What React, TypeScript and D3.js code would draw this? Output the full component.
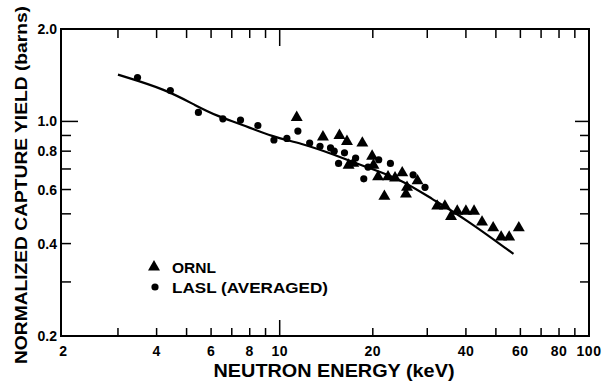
import React from 'react';
import * as d3 from 'd3';

// ORNL triangles: [energy keV, yield barns]
const ornlEnergy = [11.35, 13.8, 15.6, 16.5, 18.5, 19.9, 16.7, 17.3, 20.1, 20.8, 22.4, 23.6, 24.9, 21.8, 25.6, 25.8, 27.9, 32.3, 34.2, 35.8, 37.5, 40.0, 42.5, 45.1, 49.0, 52.0, 55.2, 59.3];
const ornlYield = [1.03, 0.89, 0.9, 0.86, 0.85, 0.77, 0.72, 0.73, 0.72, 0.66, 0.66, 0.654, 0.68, 0.57, 0.58, 0.61, 0.64, 0.53, 0.53, 0.49, 0.51, 0.51, 0.51, 0.47, 0.45, 0.42, 0.42, 0.45];

// LASL (averaged) dots
const laslEnergy = [3.47, 4.43, 5.46, 6.55, 7.47, 8.5, 9.58, 10.55, 11.45, 12.5, 13.5, 14.6, 15.0, 15.5, 17.6, 18.7, 20.9, 22.8, 27.0, 29.5, 16.2, 19.3];
const laslYield = [1.39, 1.26, 1.07, 1.02, 1.01, 0.97, 0.87, 0.88, 0.93, 0.85, 0.83, 0.82, 0.8, 0.73, 0.76, 0.65, 0.75, 0.73, 0.67, 0.61, 0.79, 0.71];

// fitted curve
const fitEnergy = [3.0, 4.3, 5.4, 6.3, 7.5, 9.5, 11.7, 15, 19, 24.5, 31, 40, 57];
const fitYield = [1.42, 1.27, 1.12, 1.04, 0.98, 0.89, 0.85, 0.78, 0.71, 0.65, 0.56, 0.48, 0.37];

const xTickLabels = [2, 4, 6, 8, 10, 20, 40, 60, 80, 100];
const xMinorTicks = [3, 4, 5, 6, 7, 8, 9, 20, 30, 40, 50, 60, 70, 80, 90];
const yTickLabels = [2.0, 1.0, 0.8, 0.6, 0.4, 0.2];
const yMinorTicks = [0.3, 0.4, 0.5, 0.6, 0.7, 0.8, 0.9];

const W = 605;
const H = 381;
const frame = { left: 61, right: 589, top: 29, bottom: 336 };
const font = '"Liberation Sans", Arial, sans-serif';

export default function App() {
  const x = d3.scaleLog().domain([2, 100]).range([63.5, frame.right]);
  const y = d3.scaleLog().domain([0.2, 2.0]).range([frame.bottom, frame.top]);

  const fit = fitEnergy.map((e, i) => [e, fitYield[i]] as [number, number]);
  const line = d3.line<[number, number]>()
    .x(d => x(d[0]))
    .y(d => y(d[1]))
    .curve(d3.curveBasis);

  const tri = d3.symbol().type(d3.symbolTriangle).size(62)();

  return (
    <svg width={W} height={H} style={{ position: 'absolute', left: 0, top: 0, background: '#fff' }}>
      <rect x={frame.left} y={frame.top} width={frame.right - frame.left} height={frame.bottom - frame.top}
        fill="none" stroke="#000" strokeWidth={2} />

      {/* x ticks, bottom and top */}
      {xMinorTicks.map(t => (
        <g key={'xt' + t} stroke="#000" strokeWidth={1.5}>
          <line x1={x(t)} x2={x(t)} y1={frame.bottom} y2={frame.bottom - 8} />
          <line x1={x(t)} x2={x(t)} y1={frame.top} y2={frame.top + 9} />
        </g>
      ))}
      <g stroke="#000" strokeWidth={1.5}>
        <line x1={x(10)} x2={x(10)} y1={frame.bottom} y2={frame.bottom - 16} />
        <line x1={x(10)} x2={x(10)} y1={frame.top} y2={frame.top + 17} />
      </g>

      {/* y ticks, left and right */}
      {yMinorTicks.map(t => (
        <g key={'yt' + t} stroke="#000" strokeWidth={1.5}>
          <line x1={frame.left} x2={frame.left + 10} y1={y(t)} y2={y(t)} />
          <line x1={frame.right} x2={frame.right - 9} y1={y(t)} y2={y(t)} />
        </g>
      ))}
      <g stroke="#000" strokeWidth={1.5}>
        <line x1={frame.left} x2={frame.left + 17} y1={y(1)} y2={y(1)} />
        <line x1={frame.right} x2={frame.right - 14} y1={y(1)} y2={y(1)} />
      </g>

      {/* tick labels */}
      {xTickLabels.map(t => (
        <text key={'xl' + t} x={x(t)} y={frame.bottom + 20} textAnchor="middle"
          fontFamily={font} fontWeight="bold" fontSize={14} letterSpacing={0.5}>{t}</text>
      ))}
      {yTickLabels.map(t => (
        <text key={'yl' + t} x={57} y={y(t) + 5} textAnchor="end"
          fontFamily={font} fontWeight="bold" fontSize={14}>{t.toFixed(1)}</text>
      ))}

      {/* axis titles */}
      <text x={334} y={377} textAnchor="middle" fontFamily={font} fontWeight="bold" fontSize={18}
        textLength={241} lengthAdjust="spacingAndGlyphs">NEUTRON ENERGY (keV)</text>
      <text transform="translate(27,185) rotate(-90)" textAnchor="middle" fontFamily={font} fontWeight="bold"
        fontSize={17} textLength={358} lengthAdjust="spacingAndGlyphs">NORMALIZED CAPTURE YIELD (barns)</text>

      {/* fitted curve */}
      <path d={line(fit) || ''} fill="none" stroke="#000" strokeWidth={2.2} />

      {/* data */}
      {laslEnergy.map((e, i) => (
        <circle key={'l' + i} cx={x(e)} cy={y(laslYield[i])} r={3.6} fill="#000" />
      ))}
      {ornlEnergy.map((e, i) => (
        <path key={'o' + i} d={tri || ''} transform={`translate(${x(e)},${y(ornlYield[i])})`} fill="#000" />
      ))}

      {/* legend */}
      <path d={tri || ''} transform="translate(154,267)" fill="#000" />
      <text x={172} y={273} fontFamily={font} fontWeight="bold" fontSize={15} textLength={44}
        lengthAdjust="spacingAndGlyphs">ORNL</text>
      <circle cx={155} cy={287} r={3.6} fill="#000" />
      <text x={172} y={293} fontFamily={font} fontWeight="bold" fontSize={15} textLength={156}
        lengthAdjust="spacingAndGlyphs">LASL (AVERAGED)</text>
    </svg>
  );
}
